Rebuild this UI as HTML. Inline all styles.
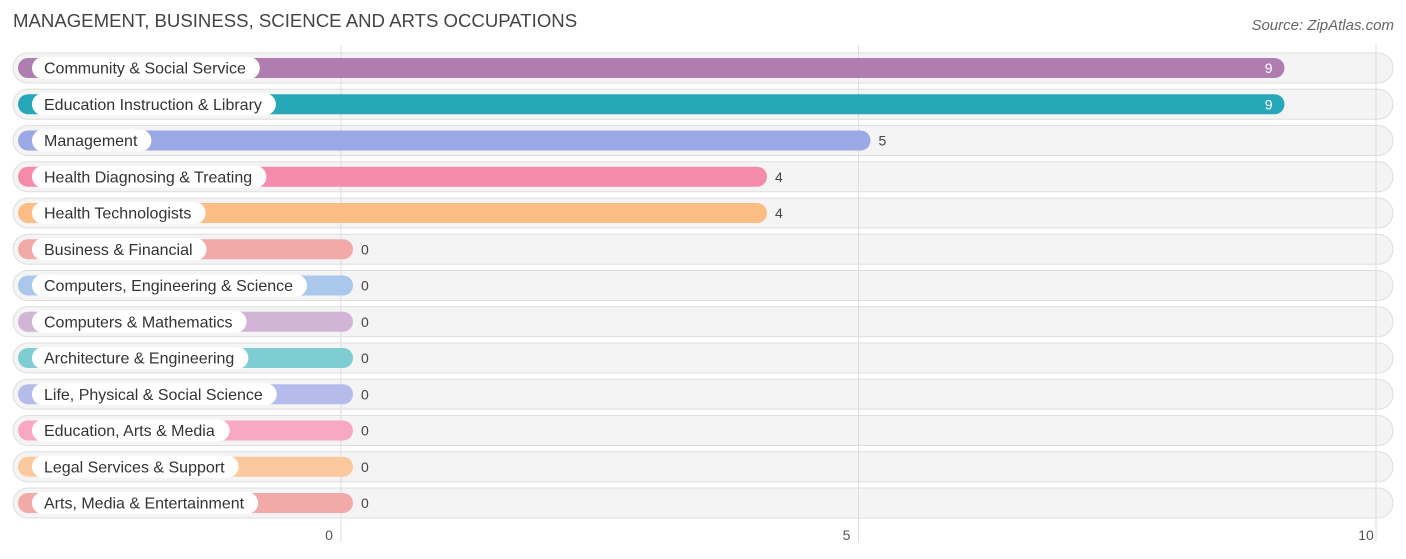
<!DOCTYPE html>
<html><head><meta charset="utf-8">
<style>
body{margin:0;background:#fff;width:1406px;height:559px;overflow:hidden;font-family:"Liberation Sans",sans-serif;}
svg{display:block}
</style></head>
<body>
<svg id="chart" width="1406" height="559" xmlns="http://www.w3.org/2000/svg">
<text x="13" y="27" font-size="18.6" fill="#444">MANAGEMENT, BUSINESS, SCIENCE AND ARTS OCCUPATIONS</text>
<text x="1394" y="30" font-size="15" fill="#666" font-style="italic" text-anchor="end">Source: ZipAtlas.com</text>
<g id="bgs"></g><g id="grid"></g><g id="rows"></g><g id="ticks"></g>
</svg>
<script>
const categories=["Community & Social Service","Education Instruction & Library","Management","Health Diagnosing & Treating","Health Technologists","Business & Financial","Computers, Engineering & Science","Computers & Mathematics","Architecture & Engineering","Life, Physical & Social Science","Education, Arts & Media","Legal Services & Support","Arts, Media & Entertainment"];
const values=[9,9,5,4,4,0,0,0,0,0,0,0,0];
const colors=["#b07db1","#26a8b8","#9aa8e6","#f48bab","#fbbd84","#f2aaa8","#a9c8ec","#d2b4d6","#7dcdd3","#b5bcec","#f9a8c4","#fcc99e","#f2aaa8"];
const tickValues=[0,5,10];
const NS="http://www.w3.org/2000/svg";
const x0=341, unit=103.5;
const xs=v=>x0+v*unit;
const rowY=i=>68+i*36.25;
function mk(tag,attrs,parent){const e=document.createElementNS(NS,tag);for(const k in attrs)e.setAttribute(k,attrs[k]);parent.appendChild(e);return e;}
const bgs=document.getElementById('bgs'),grid=document.getElementById('grid'),rows=document.getElementById('rows'),ticks=document.getElementById('ticks');
tickValues.forEach((t,i)=>{
  const l=mk('line',{x1:xs(t),x2:xs(t),y1:45,y2:542,stroke:'#ddd','stroke-width':1},grid);
  
  
  const tx=mk('text',{x:xs(t)-(i==tickValues.length-1?10:12),y:540,'font-size':14,fill:'#555','text-anchor':'middle'},ticks);
  tx.textContent=t;
  
  
});
const ctx=document.createElement('canvas').getContext('2d');ctx.font='16px "Liberation Sans"';
categories.forEach((c,i)=>{
  const y=rowY(i);
  const bg=mk('rect',{x:13,y:y-15,width:1380,height:30,rx:15,fill:'#f4f4f4',stroke:'#dedede','stroke-width':1},bgs);
  
  
  const g=mk('g',{},rows);
  
  
  const end=xs(values[i])+12;
  const bar=mk('rect',{x:18,y:y-10,width:end-18,height:20,rx:10,fill:colors[i]},g);
  
  
  const w=ctx.measureText(c).width+26;
  const pill=mk('rect',{x:32,y:y-11,width:w,height:22,rx:11,fill:'#fff'},g);
  
  
  const lt=mk('text',{x:44,y:y+5.5,'font-size':16,fill:'#333'},g);
  lt.textContent=c;
  
  
  const inside=values[i]>=8;
  const vt=mk('text',{x:inside?end-12:end+8,y:y+5,'font-size':14,fill:inside?'#fff':'#444','text-anchor':inside?'end':'start'},g);
  vt.textContent=values[i];
  
  
});
</script>
</body></html>
